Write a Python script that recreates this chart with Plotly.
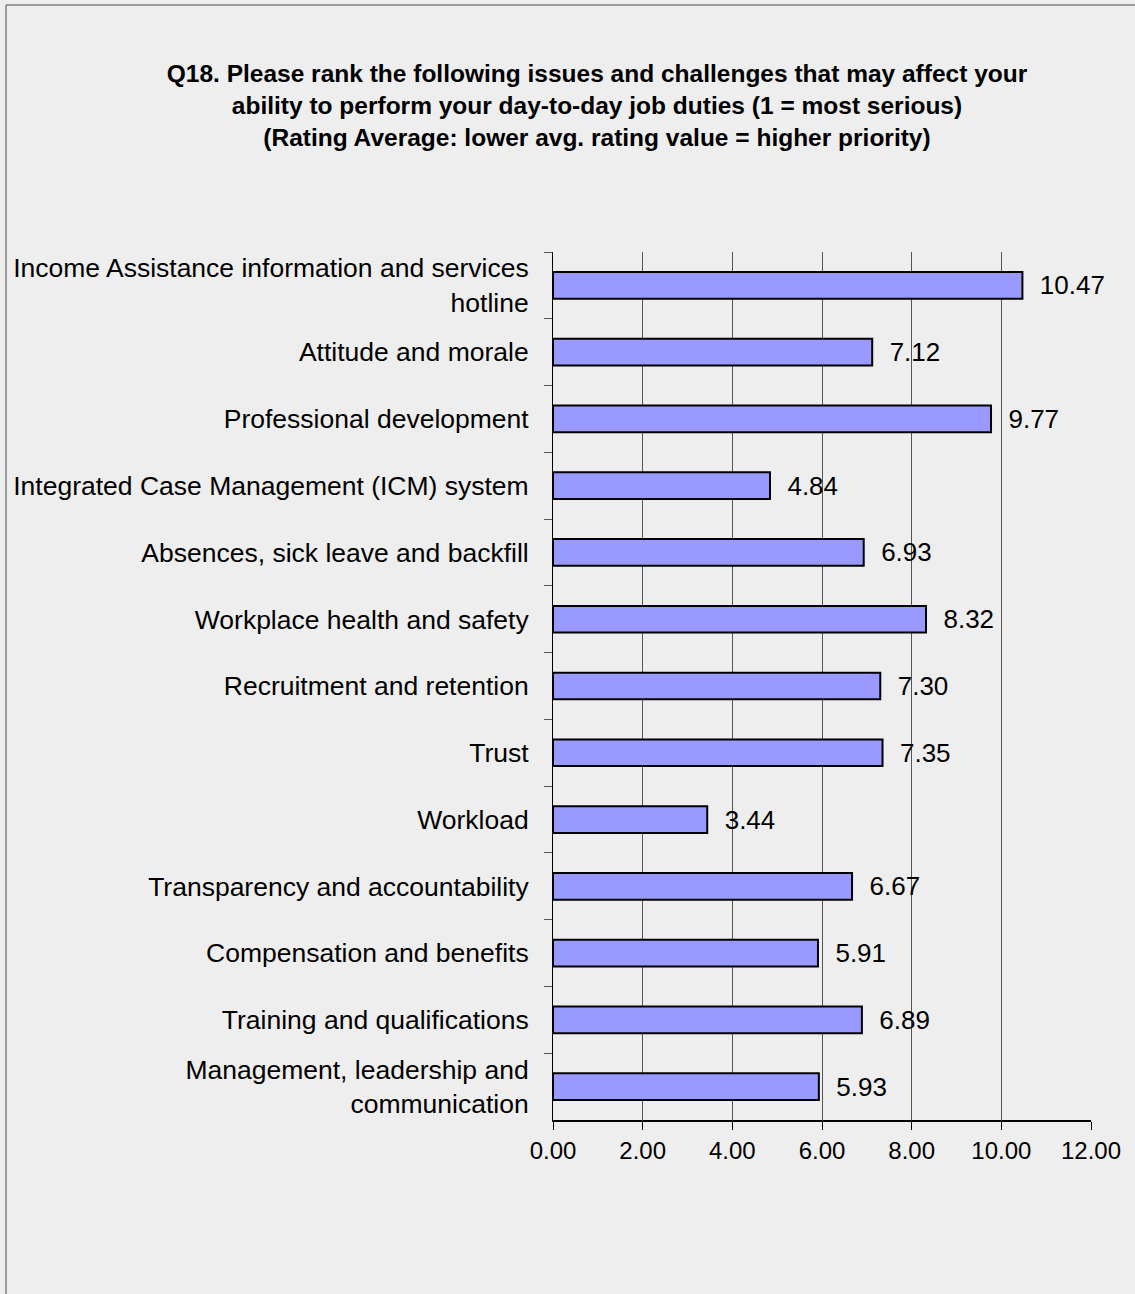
import plotly.graph_objects as go

categories = [
    "Income Assistance information and services<br>hotline",
    "Attitude and morale",
    "Professional development",
    "Integrated Case Management (ICM) system",
    "Absences, sick leave and backfill",
    "Workplace health and safety",
    "Recruitment and retention",
    "Trust",
    "Workload",
    "Transparency and accountability",
    "Compensation and benefits",
    "Training and qualifications",
    "Management, leadership and<br>communication",
]
ratings = [10.47, 7.12, 9.77, 4.84, 6.93, 8.32, 7.30, 7.35, 3.44, 6.67, 5.91, 6.89, 5.93]
x_ticks = [0, 2, 4, 6, 8, 10, 12]

title_text = ("<b>Q18. Please rank the following issues and challenges that may affect your<br>"
              "ability to perform your day-to-day job duties (1 = most serious)<br>"
              "(Rating Average: lower avg. rating value = higher priority)</b>")

FONT = "Liberation Sans, Arial"

fig = go.Figure()
fig.add_trace(go.Bar(
    x=ratings,
    y=categories,
    orientation="h",
    marker=dict(color="#9999ff", line=dict(color="black", width=2)),
    texttemplate="\u00a0\u00a0%{x:.2f}",
    textposition="outside",
    constraintext="none",
    textfont=dict(family=FONT, size=26, color="black"),
    cliponaxis=False,
    hoverinfo="x+y",
))

# outer frame: only the left and top edges show in the original
frame_left = (6 - 553) / 538
frame_top = (1120 - 5) / 868
frame = dict(color="#808080", width=1.5)

fig.update_layout(
    width=1135, height=1294,
    paper_bgcolor="#eeeeee",
    plot_bgcolor="#eeeeee",
    margin=dict(l=553, r=44, t=252, b=174),
    showlegend=False,
    bargap=0.6,
    font=dict(family=FONT, size=22, color="black"),
    title=dict(
        text=title_text,
        x=(597 / 1135), xanchor="center",
        y=1 - 82 / 1294, yanchor="top",
        font=dict(family=FONT, size=24.5, color="black"),
    ),
    shapes=[
        dict(type="line", xref="paper", yref="paper",
             x0=frame_left, x1=frame_left, y0=-0.5, y1=frame_top, line=frame, layer="below"),
        dict(type="line", xref="paper", yref="paper",
             x0=frame_left, x1=1.2, y0=frame_top, y1=frame_top, line=frame, layer="below"),
    ],
)

fig.update_xaxes(
    range=[0, 12],
    tickvals=x_ticks,
    tickformat=".2f",
    showgrid=True, gridcolor="#555555", gridwidth=1,
    showline=True, linecolor="black", linewidth=1.5,
    ticks="outside", ticklen=8, tickcolor="black",
    zeroline=False,
    tickfont=dict(family=FONT, size=24),
)
fig.update_yaxes(
    autorange="reversed",
    showgrid=False,
    showline=True, linecolor="black", linewidth=1,
    ticks="outside", tickson="boundaries", ticklen=8, tickcolor="#555555",
    ticklabelstandoff=18,
    tickfont=dict(family=FONT, size=26.5),
)

# the page body has a default 8px margin; drop it so the chart sits at 0,0
fig.write_html("out.html", config={"displayModeBar": False},
               post_script="document.body.style.margin='0';")
